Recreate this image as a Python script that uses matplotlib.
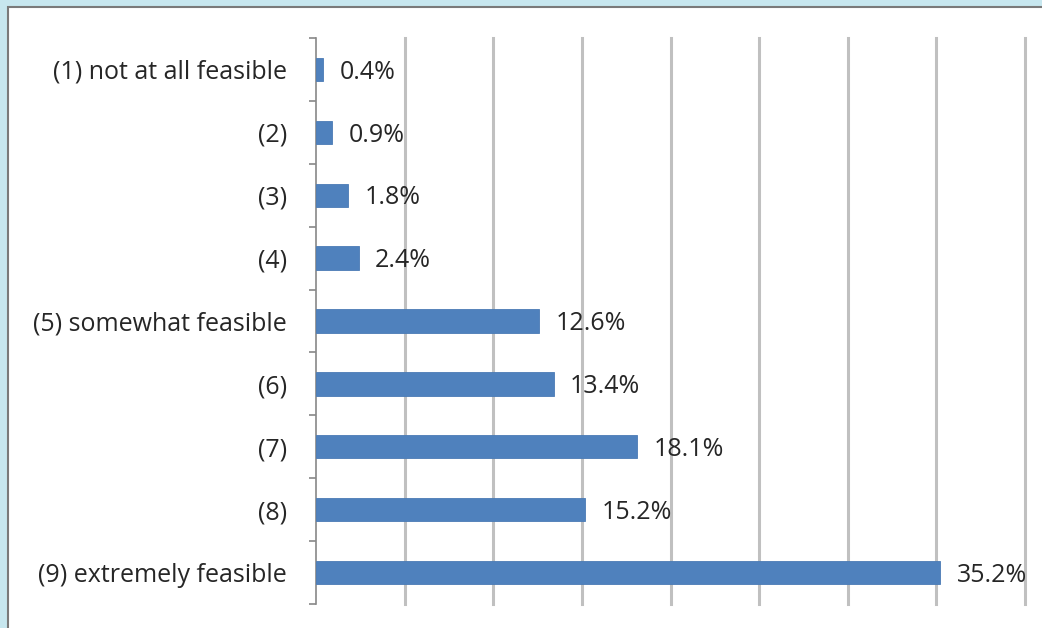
import matplotlib
matplotlib.use("Agg")
import matplotlib.pyplot as plt
from matplotlib.patches import Rectangle
import numpy as np

categories = ["(1) not at all feasible", "(2)", "(3)", "(4)", "(5) somewhat feasible",
              "(6)", "(7)", "(8)", "(9) extremely feasible"]
values = [0.4, 0.9, 1.8, 2.4, 12.6, 13.4, 18.1, 15.2, 35.2]
labels = ["0.4%", "0.9%", "1.8%", "2.4%", "12.6%", "13.4%", "18.1%", "15.2%", "35.2%"]

plt.rcParams['font.family'] = ['Open Sans', 'DejaVu Sans']
W, H = 1042, 628
fig = plt.figure(figsize=(W/100, H/100), dpi=100)
fig.patch.set_facecolor('#c7e7ef')

# white panel with gray border
panel = Rectangle((8/W, -0.1), 1.2, (H-7)/H + 0.1, transform=fig.transFigure,
                  facecolor='white', edgecolor='#7a7a7a', linewidth=1.5, zorder=-5)
fig.patches.append(panel)

ax = fig.add_axes([316/W, 1-604/H, (1025-316)/W, (604-38)/H])
ax.set_zorder(2)
ax.set_facecolor('none')
y = np.arange(len(categories))
ax.barh(y, values, height=0.37, color='#4f81bd', edgecolor='#4a7ab5', linewidth=0.6, zorder=3)
ax.set_xlim(0, 40)
ax.set_ylim(len(categories)-0.5, -0.5)
ax.set_xticks(np.arange(5, 41, 5))
ax.xaxis.grid(True, color='#c0c0c0', linewidth=2.2, zorder=0)
for gl in ax.get_xgridlines():
    gl.set_clip_on(False)
ax.tick_params(axis='x', length=0, labelbottom=False)
ax.set_yticks(y)
ax.set_yticklabels(categories, fontsize=18, color='#262626')
ax.set_yticks(np.arange(-0.5, len(categories), 1), minor=True)
ax.tick_params(axis='y', which='major', length=0, pad=21)
ax.tick_params(axis='y', which='minor', length=5, color='#888888', width=1.2)
for s in ['top', 'right', 'bottom']:
    ax.spines[s].set_visible(False)
ax.spines['left'].set_color('#888888')
ax.spines['left'].set_linewidth(1.2)

for yi, v, lab in zip(y, values, labels):
    ax.annotate(lab, (v, yi), xytext=(12, -2), textcoords='offset points',
                va='center', ha='left', fontsize=18, color='#262626', zorder=4)

fig.savefig('out.png', dpi=100, facecolor=fig.get_facecolor())
